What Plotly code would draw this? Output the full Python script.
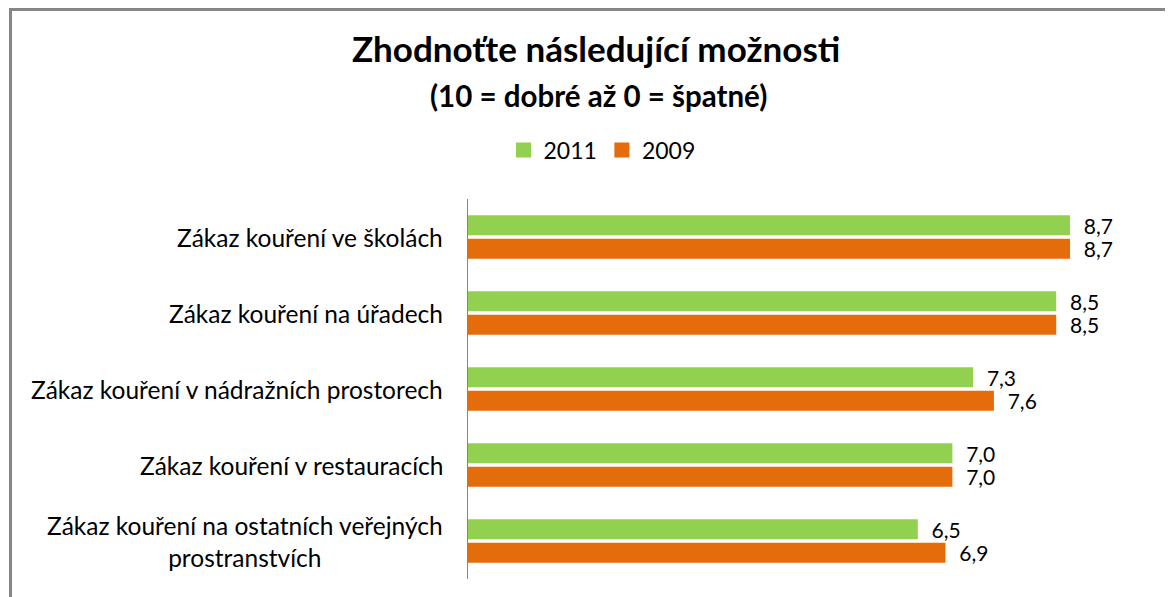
import plotly.graph_objects as go

categories = [
    "Zákaz kouření ve školách",
    "Zákaz kouření na úřadech",
    "Zákaz kouření v nádražních prostorech",
    "Zákaz kouření v restauracích",
    "Zákaz kouření na ostatních veřejných<br>prostranstvích",
]
values_2011 = [8.7, 8.5, 7.3, 7.0, 6.5]
values_2009 = [8.7, 8.5, 7.6, 7.0, 6.9]
series_names = ["2011", "2009"]
title_text = "Zhodnoťte následující možnosti"
subtitle_text = "(10 = dobré až 0 = špatné)"

FONT = "Lato"
GREEN = "#92D050"
ORANGE = "#E46C0A"
OFF = 8  # page body margin offset

def fmt(v):
    return "  " + f"{v:.1f}".replace(".", ",")

W, H = 1173, 597
L, R, T, B = 468 - OFF, W - (1160 - OFF), 199 - OFF, H - (579 - OFF)
pw = W - L - R
ph = H - T - B

def px(xr):
    return (xr - OFF - L) / pw

def py(yr):
    return (H - B - (yr - OFF)) / ph

fig = go.Figure()
for name, vals, col in [(series_names[0], values_2011, GREEN), (series_names[1], values_2009, ORANGE)]:
    fig.add_trace(go.Bar(
        y=categories, x=vals, name=name, orientation="h",
        marker=dict(color=col, line=dict(width=0)),
        text=[fmt(v) for v in vals], textposition="outside", constraintext="none",
        textfont=dict(family=FONT, size=21, color="#000000"),
        cliponaxis=False, hoverinfo="skip", showlegend=False,
    ))
# legend entries (square swatches)
for name, col in [(series_names[0], GREEN), (series_names[1], ORANGE)]:
    fig.add_trace(go.Scatter(x=[None], y=[None], mode="markers", name=name,
                             marker=dict(symbol="square", size=15, color=col),
                             hoverinfo="skip"))

fig.update_layout(
    width=W, height=H,
    margin=dict(l=L, r=R, t=T, b=B),
    paper_bgcolor="white", plot_bgcolor="white",
    barmode="group", bargap=0.38, bargroupgap=0.15,
    showlegend=True,
    legend=dict(orientation="h", xref="paper", yref="paper",
                x=px(602), y=py(150), xanchor="center", yanchor="middle",
                font=dict(family=FONT, size=23, color="#000000"),
                traceorder="normal", itemwidth=30),
    xaxis=dict(range=[0, 10], showticklabels=False, showgrid=False, zeroline=False,
               showline=False, ticks=""),
    yaxis=dict(autorange="reversed", showticklabels=False, showgrid=False,
               showline=True, linecolor="#868686", linewidth=1, ticks="", zeroline=False),
    font=dict(family=FONT),
)

annotations = [
    dict(text="<b>" + title_text + "</b>", xref="paper", yref="paper",
         x=px(596), y=py(48), xanchor="center", yanchor="middle", showarrow=False,
         font=dict(family=FONT, size=35, color="#000000")),
    dict(text="<b>" + subtitle_text + "</b>", xref="paper", yref="paper",
         x=px(598), y=py(95), xanchor="center", yanchor="middle", showarrow=False,
         font=dict(family=FONT, size=29.5, color="#000000")),
]
for c in categories:
    annotations.append(dict(text=c, xref="paper", yref="y", x=px(445), y=c,
                            xanchor="right", yanchor="middle", align="center", showarrow=False,
                            font=dict(family=FONT, size=24.5, color="#000000")))
fig.update_layout(annotations=annotations)

# outer chart border
fig.add_shape(type="rect", xref="paper", yref="paper",
              x0=px(10.5), x1=px(W + 30),
              y0=py(H + 30), y1=py(9.5),
              line=dict(color="#868686", width=3), fillcolor="rgba(0,0,0,0)", layer="below")

fig.write_html("out.html")
